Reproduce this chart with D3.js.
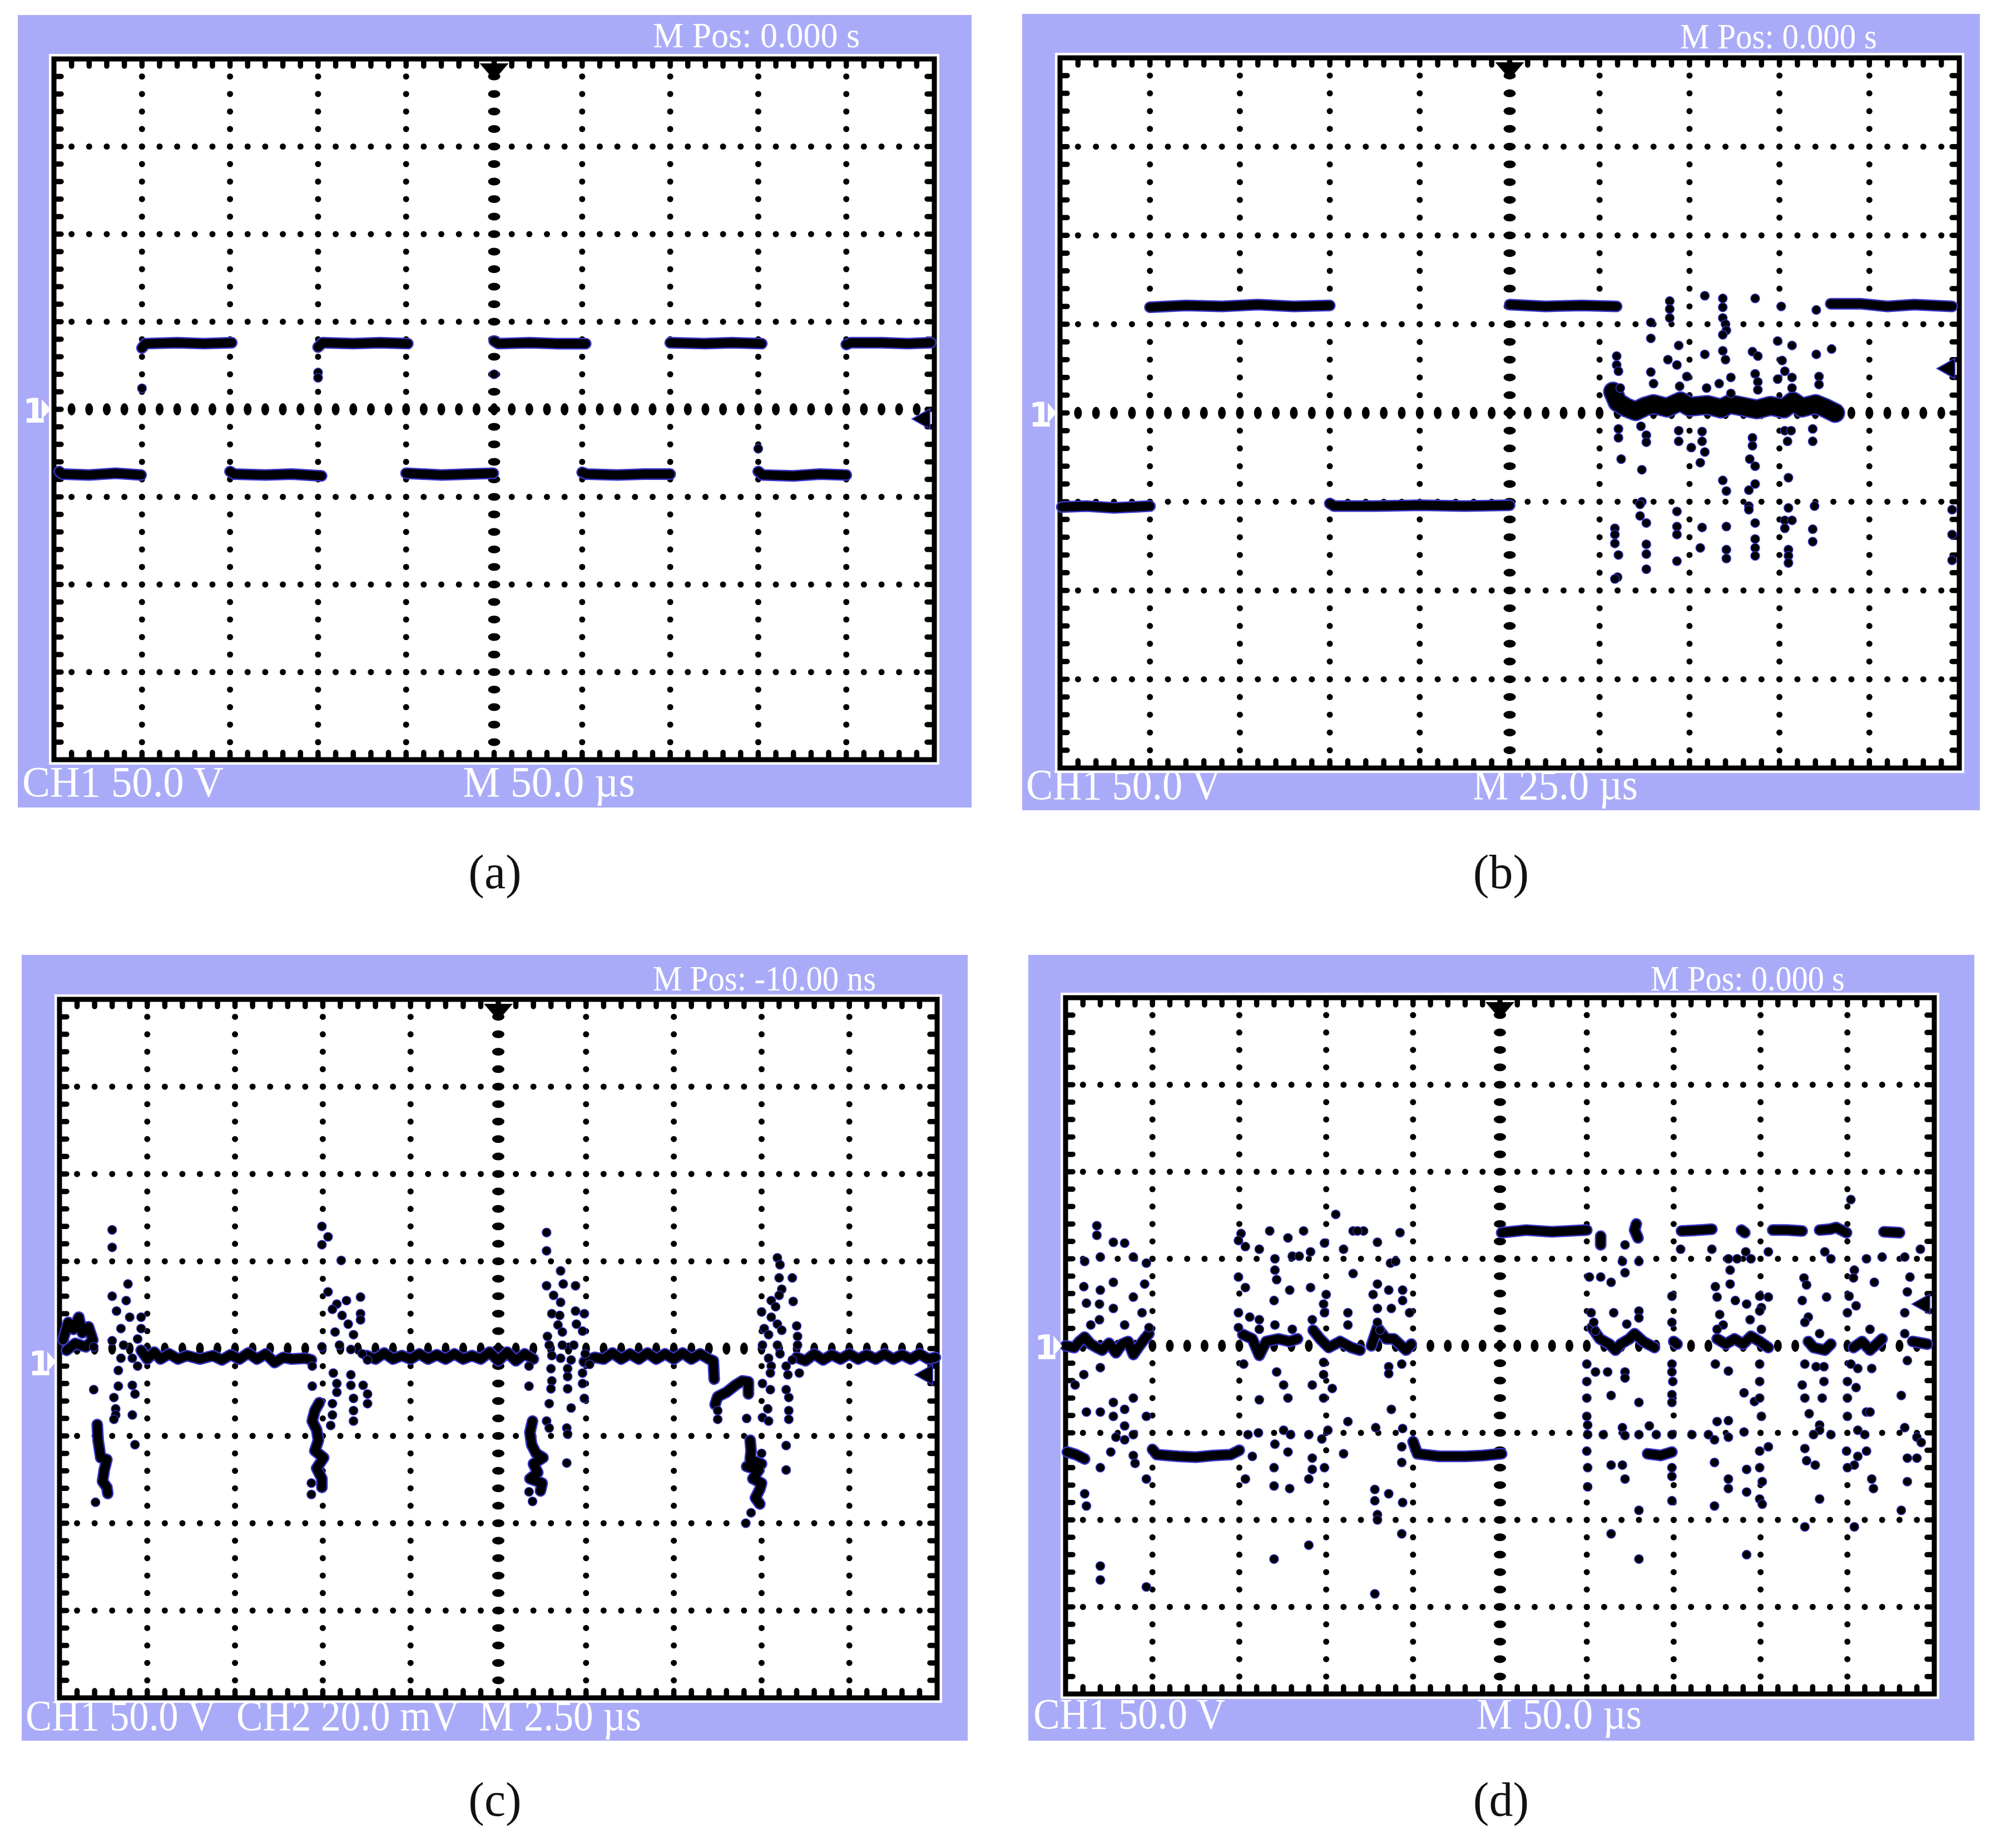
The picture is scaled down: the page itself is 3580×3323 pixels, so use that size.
<!DOCTYPE html>
<html>
<head>
<meta charset="utf-8">
<script src="https://cdn.jsdelivr.net/npm/d3@7"></script>
<style>
  body { margin: 0; background: #fff; }
  svg { display: block; }
</style>
</head>
<body>
<div id="chart"></div>
<script>
// all trace values are in screen divisions: x 0..10 from the left edge, y -4..4 from the centre line

// ---- panel (a): square wave ----
let aText = ["M Pos: 0.000 s", "CH1 50.0 V", "M 50.0 µs"];
let aTrace = [
    [[0.06, -0.71], [0.1, -0.74], [0.4, -0.75], [0.7, -0.73], [0.99, -0.75]],
    [[1.0, 0.70], [1.04, 0.75], [1.4, 0.76], [1.7, 0.75], [2.02, 0.76]],
    [[2.0, -0.71], [2.05, -0.74], [2.4, -0.75], [2.7, -0.74], [3.04, -0.76]],
    [[3.0, 0.71], [3.05, 0.76], [3.4, 0.75], [3.7, 0.76], [4.02, 0.75]],
    [[4.0, -0.73], [4.4, -0.75], [4.7, -0.74], [4.99, -0.73]],
    [[5.0, 0.78], [5.05, 0.75], [5.4, 0.76], [5.7, 0.75], [6.04, 0.75]],
    [[6.0, -0.72], [6.05, -0.74], [6.4, -0.75], [6.7, -0.74], [7.0, -0.74]],
    [[7.0, 0.76], [7.4, 0.75], [7.7, 0.76], [8.04, 0.75]],
    [[8.0, -0.71], [8.05, -0.75], [8.4, -0.76], [8.7, -0.74], [9.0, -0.75]],
    [[9.0, 0.74], [9.05, 0.76], [9.4, 0.76], [9.7, 0.75], [9.96, 0.76]]
];
let aBand = [];
let aDots = [[3.0, 0.42], [3.0, 0.36], [5.0, 0.40], [1.0, 0.24], [8.0, -0.45]];
let aMarks = { ground: 0, trigger: -0.11 };

// ---- panel (b) ----
let bText = ["M Pos: 0.000 s", "CH1 50.0 V", "M 25.0 µs"];
let bTrace = [
    [[0.02, -1.06], [0.3, -1.05], [0.6, -1.07], [1.0, -1.05]],
    [[1.0, 1.19], [1.4, 1.21], [1.8, 1.20], [2.2, 1.22], [2.6, 1.20], [3.0, 1.21]],
    [[3.0, -1.02], [3.05, -1.05], [3.5, -1.05], [4.0, -1.04], [4.5, -1.05], [5.0, -1.04]],
    [[5.0, 1.22], [5.4, 1.20], [5.8, 1.21], [6.19, 1.20]],
    [[8.57, 1.23], [8.9, 1.23], [9.2, 1.20], [9.5, 1.22], [9.92, 1.20]]
];
// thick noisy band around the centre line
let bBand = [
    [[6.15, 0.24], [6.2, 0.12], [6.3, 0.06], [6.4, 0.02], [6.5, 0.07], [6.6, 0.10], [6.75, 0.06],
     [6.9, 0.13], [7.0, 0.07], [7.2, 0.09], [7.35, 0.05], [7.45, 0.10], [7.6, 0.07], [7.75, 0.04],
     [7.9, 0.08], [8.05, 0.05], [8.15, 0.13], [8.25, 0.06], [8.4, 0.10], [8.5, 0.06], [8.62, 0.0]]
];
let bDots = [
    [6.78, 1.26], [6.78, 1.17], [6.78, 1.07], [7.17, 1.32], [7.37, 1.29], [7.37, 1.19], [7.37, 1.07],
    [7.40, 1.00], [7.41, 0.93], [7.37, 0.88], [7.73, 1.29], [8.02, 1.20], [8.41, 1.16], [6.57, 1.02],
    [6.57, 0.84], [6.88, 0.76], [7.17, 0.66], [7.37, 0.70], [7.40, 0.60], [7.70, 0.69], [7.76, 0.64],
    [7.98, 0.81], [8.14, 0.76], [8.41, 0.66], [8.58, 0.72], [6.19, 0.64], [6.19, 0.54], [6.21, 0.47],
    [6.76, 0.60], [6.86, 0.54], [6.57, 0.46], [6.97, 0.41], [7.46, 0.40], [7.73, 0.44], [8.03, 0.59],
    [8.06, 0.47], [7.98, 0.38], [8.14, 0.40], [8.44, 0.41], [8.44, 0.32], [7.33, 0.33], [7.19, 0.28],
    [6.60, 0.33], [6.89, 0.30], [7.76, 0.35], [7.76, 0.26], [6.23, 0.28], [8.14, 0.28], [7.46, 0.22],
    [6.21, -0.18], [6.21, -0.28], [6.46, -0.15], [6.52, -0.25], [6.52, -0.33], [6.88, -0.20], [6.88, -0.32],
    [7.14, -0.21], [7.14, -0.32], [7.70, -0.28], [7.70, -0.37], [8.06, -0.20], [8.13, -0.20], [8.09, -0.32],
    [8.37, -0.18], [8.37, -0.32], [7.02, -0.39], [7.17, -0.44], [6.24, -0.52], [7.12, -0.56], [7.67, -0.52],
    [7.73, -0.60], [6.47, -0.64], [7.37, -0.76], [7.41, -0.88], [7.73, -0.80], [7.66, -0.87], [8.10, -0.73],
    [6.47, -1.00], [6.45, -1.03], [7.66, -1.05], [7.66, -1.09], [8.39, -1.05], [6.45, -1.16], [6.86, -1.11],
    [8.10, -1.07], [6.52, -1.24], [7.14, -1.29], [7.41, -1.28], [7.73, -1.24], [8.06, -1.21], [8.06, -1.30],
    [8.14, -1.21], [8.37, -1.31], [8.37, -1.45], [6.17, -1.30], [6.17, -1.37], [6.17, -1.47], [6.86, -1.28],
    [6.86, -1.37], [6.52, -1.48], [6.52, -1.59], [7.12, -1.52], [7.41, -1.54], [7.41, -1.64], [7.73, -1.42],
    [7.73, -1.52], [7.73, -1.61], [8.10, -1.54], [8.10, -1.61], [8.10, -1.69], [6.21, -1.60], [6.86, -1.67],
    [6.52, -1.76], [6.20, -1.85], [6.17, -1.87],
    [9.92, -1.09], [9.92, -1.37], [9.92, -1.66]
];
let bMarks = { ground: 0, trigger: 0.5 };

// ---- panel (c) ----
let cText = ["M Pos: -10.00 ns", "CH1 50.0 V", "CH2 20.0 mV", "M 2.50 µs"];
let cTrace = [
    [[0.04, 0.10], [0.10, 0.30], [0.16, 0.22], [0.22, 0.36], [0.26, 0.18], [0.33, 0.25], [0.38, 0.10],
     [0.30, 0.02], [0.18, 0.06], [0.08, -0.02]],
    [[0.93, -0.02], [1.0, -0.12], [1.08, -0.04], [1.15, -0.12], [1.25, -0.06], [1.35, -0.12], [1.45, -0.08],
     [1.6, -0.12], [1.75, -0.08], [1.85, -0.13], [1.95, -0.07], [2.05, -0.12], [2.15, -0.05], [2.25, -0.12],
     [2.35, -0.06], [2.45, -0.16], [2.55, -0.10], [2.65, -0.12], [2.80, -0.11], [2.87, -0.13]],
    [[3.50, -0.08], [3.6, -0.12], [3.7, -0.05], [3.8, -0.12], [3.9, -0.08], [4.0, -0.12], [4.1, -0.06],
     [4.2, -0.12], [4.3, -0.07], [4.4, -0.12], [4.5, -0.06], [4.6, -0.12], [4.7, -0.08], [4.8, -0.12],
     [4.9, -0.04], [5.0, -0.14], [5.1, -0.04], [5.2, -0.14], [5.3, -0.06], [5.4, -0.12]],
    [[5.98, -0.15], [6.1, -0.10], [6.2, -0.12], [6.3, -0.05], [6.4, -0.12], [6.5, -0.06], [6.6, -0.12],
     [6.7, -0.05], [6.8, -0.12], [6.9, -0.06], [7.0, -0.12], [7.1, -0.05], [7.2, -0.12], [7.3, -0.06],
     [7.4, -0.12], [7.45, -0.14], [7.46, -0.35]],
    [[7.47, -0.64], [7.5, -0.55], [7.6, -0.50], [7.7, -0.42], [7.78, -0.37], [7.85, -0.38], [7.85, -0.52]],
    [[8.40, -0.10], [8.5, -0.14], [8.6, -0.06], [8.7, -0.13], [8.8, -0.07], [8.9, -0.12], [9.0, -0.06],
     [9.1, -0.12], [9.2, -0.07], [9.3, -0.12], [9.4, -0.06], [9.5, -0.12], [9.6, -0.07], [9.7, -0.12],
     [9.8, -0.06], [9.9, -0.12], [9.98, -0.10]],
    [[0.43, -0.87], [0.44, -1.05], [0.47, -1.25], [0.54, -1.27], [0.51, -1.39], [0.49, -1.52], [0.54, -1.59], [0.55, -1.66]],
    [[2.96, -0.62], [2.91, -0.71], [2.88, -0.83], [2.93, -0.93], [2.95, -1.05], [2.91, -1.17], [3.01, -1.25],
     [2.93, -1.37], [2.99, -1.49], [2.99, -1.59]],
    [[5.39, -0.83], [5.36, -0.96], [5.38, -1.10], [5.43, -1.20], [5.51, -1.25], [5.40, -1.32], [5.45, -1.42],
     [5.36, -1.49], [5.50, -1.54], [5.48, -1.63]],
    [[7.87, -1.05], [7.88, -1.17], [7.87, -1.27], [8.00, -1.32], [7.83, -1.35], [7.97, -1.39], [7.90, -1.49],
     [8.00, -1.54], [7.98, -1.61], [7.93, -1.71], [7.98, -1.78]]
];
let cBand = [];
let cDots = [
    // burst 1
    [0.41, -1.76], [0.60, 1.36], [0.60, 1.16], [0.78, 0.74], [0.60, 0.60], [0.76, 0.55], [0.65, 0.43],
    [0.80, 0.36], [0.93, 0.36], [0.70, 0.23], [0.93, 0.23], [0.60, 0.09], [0.73, 0.04], [0.89, 0.11],
    [0.70, -0.11], [0.83, -0.11], [0.67, -0.25], [0.89, -0.20], [0.83, -0.42], [0.67, -0.43], [0.86, -0.52],
    [0.62, -0.56], [0.64, -0.69], [0.64, -0.76], [0.62, -0.81], [0.83, -0.76], [0.86, -1.10], [0.39, -0.47], [0.39, 0.02],
    // burst 2
    [2.99, 1.40], [3.06, 1.28], [2.99, 1.19], [3.21, 1.01], [3.06, 0.65], [3.16, 0.51], [3.27, 0.55],
    [3.43, 0.59], [3.11, 0.45], [3.22, 0.38], [3.29, 0.28], [3.35, 0.16], [3.43, 0.40], [3.43, 0.33],
    [3.14, 0.19], [2.99, 0.02], [3.19, 0.04], [3.32, -0.01], [3.45, -0.06], [3.51, -0.13], [3.12, -0.28],
    [3.32, -0.30], [3.16, -0.40], [3.32, -0.42], [3.46, -0.42], [3.16, -0.50], [3.51, -0.52], [3.11, -0.63],
    [3.35, -0.57], [3.51, -0.63], [3.11, -0.76], [3.35, -0.71], [3.35, -0.83], [3.09, -0.88], [2.88, -0.43],
    [2.88, -0.20], [2.87, -1.54], [2.87, -1.67],
    // burst 3
    [5.55, 1.33], [5.55, 1.12], [5.71, 0.89], [5.55, 0.72], [5.74, 0.74], [5.88, 0.72], [5.63, 0.61],
    [5.71, 0.53], [5.61, 0.40], [5.70, 0.38], [5.88, 0.43], [5.98, 0.40], [5.68, 0.27], [5.89, 0.28],
    [5.73, 0.19], [5.56, 0.14], [5.96, 0.20], [5.58, 0.04], [5.73, 0.04], [5.86, 0.04], [5.61, -0.08],
    [5.71, -0.11], [5.83, -0.13], [5.99, -0.06], [6.04, -0.18], [5.60, -0.23], [5.79, -0.23], [5.96, -0.28],
    [5.79, -0.32], [5.61, -0.37], [5.79, -0.46], [5.60, -0.46], [5.96, -0.40], [5.98, -0.57], [5.58, -0.63],
    [5.83, -0.68], [5.55, -0.83], [5.58, -0.91], [5.78, -0.91], [5.79, -0.98], [5.78, -1.31], [5.35, -0.20],
    [5.35, -0.43], [5.39, -1.75], [5.35, -1.64], [7.50, -0.71], [7.50, -0.81], [7.83, -0.80],
    // burst 4
    [8.18, 1.04], [8.21, 0.96], [8.20, 0.81], [8.35, 0.81], [8.23, 0.68], [8.20, 0.61], [8.11, 0.55],
    [8.36, 0.54], [8.16, 0.48], [8.00, 0.42], [8.11, 0.36], [8.18, 0.28], [8.03, 0.23], [8.23, 0.21],
    [8.40, 0.26], [8.08, 0.16], [8.41, 0.14], [8.01, 0.04], [8.18, 0.04], [8.41, 0.04], [8.08, -0.11],
    [8.21, -0.06], [8.35, -0.13], [8.11, -0.20], [8.28, -0.20], [8.30, -0.30], [8.43, -0.28], [8.10, -0.28],
    [8.01, -0.40], [8.10, -0.47], [8.28, -0.47], [8.31, -0.56], [8.07, -0.69], [8.01, -0.79], [8.31, -0.71],
    [8.31, -0.81], [8.08, -0.83], [8.28, -1.11], [8.28, -1.39], [8.00, -1.20], [7.88, -1.88], [7.82, -2.00]
];
let cMarks = { ground: -0.15, trigger: -0.3 };

// ---- panel (d) ----
let dText = ["M Pos: 0.000 s", "CH1 50.0 V", "M 50.0 µs"];
let dTrace = [
    [[0.02, -1.22], [0.12, -1.25], [0.22, -1.30]],
    [[0.0, 0.0], [0.10, -0.02], [0.16, 0.05], [0.22, 0.10], [0.29, 0.02], [0.36, -0.02], [0.42, -0.05],
     [0.50, 0.03], [0.58, -0.08], [0.65, 0.02], [0.72, 0.05], [0.78, -0.10], [0.85, 0.0], [0.91, 0.08], [0.96, 0.14]],
    [[1.0, -1.19], [1.05, -1.25], [1.3, -1.27], [1.5, -1.28], [1.7, -1.26], [1.9, -1.25], [2.0, -1.20]],
    [[2.04, 0.13], [2.15, 0.08], [2.23, -0.11], [2.31, 0.05], [2.45, 0.08], [2.58, 0.05], [2.67, 0.08]],
    [[2.85, 0.18], [2.93, 0.08], [3.03, -0.02], [3.16, 0.05], [3.29, -0.02], [3.39, -0.05]],
    [[3.52, 0.0], [3.59, 0.21], [3.69, 0.08], [3.78, 0.08], [3.92, -0.05], [3.98, 0.02]],
    [[4.0, -1.10], [4.05, -1.24], [4.3, -1.27], [4.6, -1.27], [4.8, -1.26], [5.02, -1.24]],
    [[5.02, 1.30], [5.3, 1.33], [5.6, 1.31], [6.0, 1.33]],
    [[6.16, 1.26], [6.16, 1.16]],
    [[6.57, 1.40], [6.55, 1.33], [6.59, 1.24]],
    [[7.09, 1.32], [7.30, 1.33], [7.44, 1.34]],
    [[7.78, 1.33], [7.82, 1.30]],
    [[8.14, 1.33], [8.30, 1.33], [8.48, 1.32]],
    [[8.68, 1.33], [8.80, 1.34], [8.87, 1.36], [8.99, 1.30]],
    [[9.42, 1.31], [9.60, 1.30]],
    [[6.06, 0.21], [6.15, 0.08], [6.26, 0.02], [6.33, -0.05], [6.39, 0.02], [6.49, 0.08], [6.55, 0.14],
     [6.65, 0.05], [6.78, -0.02]],
    [[7.0, 0.05], [7.04, 0.02]],
    [[7.50, 0.08], [7.60, 0.02], [7.70, 0.08], [7.80, 0.02], [7.89, 0.11], [7.99, 0.05], [8.09, -0.02]],
    [[8.55, 0.05], [8.61, -0.02], [8.74, -0.05], [8.81, 0.02]],
    [[9.07, -0.02], [9.17, 0.05], [9.26, -0.05], [9.40, 0.08]],
    [[9.75, 0.05], [9.92, 0.02]],
    [[6.70, -1.24], [6.85, -1.26], [6.98, -1.22]]
];
let dBand = [];
let dDots = [
    // first division
    [0.36, 1.38], [0.36, 1.27], [0.55, 1.19], [0.68, 1.18], [0.22, 0.97], [0.40, 1.02], [0.78, 1.02],
    [0.93, 0.95], [0.21, 0.68], [0.40, 0.64], [0.55, 0.73], [0.78, 0.56], [0.91, 0.71], [0.24, 0.49],
    [0.39, 0.48], [0.55, 0.43], [0.88, 0.38], [0.39, 0.30], [0.29, 0.24], [0.68, 0.24], [0.96, 0.21],
    [0.40, -0.25], [0.21, -0.33], [0.11, -0.45], [0.55, -0.65], [0.78, -0.60], [0.24, -0.76], [0.40, -0.76],
    [0.55, -0.81], [0.68, -0.73], [0.93, -0.81], [0.68, -0.92], [0.58, -1.05], [0.68, -1.08], [0.78, -1.02],
    [0.52, -1.22], [0.78, -1.26], [0.80, -1.35], [0.40, -1.40], [0.93, -1.53], [0.22, -1.70], [0.24, -1.84],
    [0.40, -2.53], [0.40, -2.69], [0.93, -2.77],
    // divisions 2 to 4
    [2.02, 1.29], [1.99, 1.21], [2.35, 1.32], [2.56, 1.24], [2.74, 1.32], [2.98, 1.18], [3.11, 1.51],
    [3.43, 1.32], [3.31, 1.32], [3.36, 1.32], [3.59, 1.19], [3.85, 1.30], [2.07, 1.14], [2.23, 1.11],
    [2.61, 1.03], [2.69, 1.03], [2.82, 1.08], [3.20, 1.11], [2.41, 1.00], [3.74, 0.95], [3.80, 0.97],
    [3.31, 0.83], [1.99, 0.79], [2.07, 0.67], [2.41, 0.87], [2.43, 0.76], [2.58, 0.64], [2.82, 0.67],
    [3.00, 0.59], [2.40, 0.52], [2.97, 0.48], [3.59, 0.71], [3.72, 0.64], [3.88, 0.64], [3.54, 0.59],
    [3.88, 0.52], [3.59, 0.43], [3.75, 0.43], [3.96, 0.38], [1.99, 0.38], [2.12, 0.33], [2.23, 0.30],
    [2.84, 0.30], [3.25, 0.38], [3.25, 0.24], [1.99, 0.21], [2.23, 0.19], [2.41, 0.24], [2.61, 0.19],
    [2.98, 0.38], [3.59, 0.27], [3.62, 0.18],
    [2.05, -0.21], [2.43, -0.30], [2.97, -0.19], [2.97, -0.33], [2.51, -0.45], [2.84, -0.45], [3.07, -0.49],
    [2.56, -0.60], [2.23, -0.62], [2.97, -0.60], [3.75, -0.73], [3.72, -0.24], [3.87, -0.21], [3.72, -0.32],
    [3.25, -0.87], [2.22, -1.00], [2.10, -1.02], [2.51, -0.97], [2.59, -1.02], [2.80, -1.02], [3.02, -0.97],
    [3.57, -0.94], [3.88, -0.95], [2.95, -1.07], [2.41, -1.13], [2.15, -1.27], [2.56, -1.22], [2.84, -1.29],
    [3.20, -1.24], [3.87, -1.16], [3.87, -1.34], [2.07, -1.53], [2.40, -1.40], [2.84, -1.42], [2.80, -1.53],
    [2.98, -1.40], [2.40, -1.61], [2.58, -1.64], [3.56, -1.65], [3.56, -1.78], [3.72, -1.70], [3.88, -1.80],
    [3.59, -1.94], [3.59, -2.00], [2.80, -2.29], [3.87, -2.16], [2.40, -2.45], [3.56, -2.85],
    // divisions 6 to 10
    [9.04, 1.68], [6.44, 1.16], [7.08, 1.11], [7.44, 1.11], [7.83, 1.08], [8.09, 1.08], [8.74, 1.08],
    [9.84, 1.11], [6.41, 0.97], [6.60, 0.97], [6.44, 0.84], [7.63, 1.00], [7.65, 0.87], [7.73, 1.00],
    [7.89, 1.00], [8.81, 1.00], [9.22, 1.00], [9.40, 1.02], [9.66, 1.02], [6.03, 0.79], [6.16, 0.79],
    [6.28, 0.73], [8.50, 0.78], [8.53, 0.70], [9.08, 0.87], [9.07, 0.78], [9.31, 0.73], [9.72, 0.79],
    [7.48, 0.68], [7.65, 0.71], [6.98, 0.57], [7.50, 0.56], [7.71, 0.52], [7.99, 0.57], [8.09, 0.56],
    [8.48, 0.52], [8.76, 0.56], [9.02, 0.57], [9.69, 0.62], [6.05, 0.38], [6.31, 0.38], [6.60, 0.40],
    [7.84, 0.48], [8.01, 0.44], [7.99, 0.40], [9.10, 0.46], [9.00, 0.38], [9.66, 0.38], [8.55, 0.33],
    [8.51, 0.27], [7.88, 0.30], [7.53, 0.36], [7.57, 0.24], [6.60, 0.32], [6.08, 0.27], [6.10, 0.17],
    [6.46, 0.25], [6.98, 0.27], [7.50, 0.19], [9.26, 0.19], [8.68, 0.14], [9.66, 0.14], [8.01, 0.19],
    [6.00, -0.21], [6.10, -0.30], [6.24, -0.30], [6.44, -0.30], [6.44, -0.37], [6.98, -0.21], [6.98, -0.30],
    [7.48, -0.21], [7.63, -0.29], [7.99, -0.21], [8.51, -0.21], [8.64, -0.24], [8.73, -0.24], [9.04, -0.21],
    [9.12, -0.26], [9.28, -0.26], [9.69, -0.17], [6.00, -0.41], [6.99, -0.41], [7.99, -0.41], [8.48, -0.45],
    [8.73, -0.41], [9.00, -0.41], [9.10, -0.48], [6.28, -0.57], [6.00, -0.60], [6.98, -0.56], [6.98, -0.65],
    [6.60, -0.65], [7.81, -0.54], [7.93, -0.64], [7.99, -0.60], [8.51, -0.60], [8.71, -0.60], [9.00, -0.60],
    [9.62, -0.57], [6.00, -0.81], [8.01, -0.81], [8.56, -0.78], [9.00, -0.81], [9.22, -0.76], [9.26, -0.76],
    [6.01, -0.91], [6.01, -1.02], [6.19, -1.02], [6.41, -0.94], [6.44, -1.03], [6.60, -1.02], [6.72, -0.92],
    [6.80, -1.02], [6.98, -1.02], [7.21, -1.02], [7.40, -1.02], [7.50, -0.87], [7.63, -0.86], [7.63, -1.05],
    [7.47, -1.08], [7.81, -0.99], [8.68, -0.91], [8.68, -0.97], [8.61, -1.02], [8.81, -1.02], [9.12, -0.97],
    [9.20, -1.02], [9.66, -0.94], [9.80, -1.05], [9.85, -1.11], [6.00, -1.21], [7.99, -1.21], [8.09, -1.16],
    [8.51, -1.18], [8.99, -1.21], [9.22, -1.21], [9.12, -1.27], [6.28, -1.37], [6.41, -1.37], [6.01, -1.40],
    [6.98, -1.40], [7.47, -1.34], [7.84, -1.42], [7.99, -1.40], [8.53, -1.32], [8.63, -1.37], [9.08, -1.37],
    [9.00, -1.40], [9.69, -1.29], [9.80, -1.29], [6.44, -1.53], [6.98, -1.50], [7.63, -1.53], [8.02, -1.56],
    [9.28, -1.53], [6.01, -1.62], [6.98, -1.78], [7.63, -1.64], [7.84, -1.68], [7.99, -1.76], [8.02, -1.82],
    [8.68, -1.76], [9.30, -1.64], [9.69, -1.56], [6.60, -1.89], [7.47, -1.84], [9.62, -1.89], [6.28, -2.16],
    [8.51, -2.08], [9.08, -2.08], [6.60, -2.45], [7.84, -2.40]
];
let dMarks = { ground: 0, trigger: 0.48 };

let xDivs = 10;
let yDivs = 8;

// screen layout, in page pixels
let panels = [
    { text: aText, trace: aTrace, band: aBand, dots: aDots, marks: aMarks, label: "(a)",
      box: [32, 27, 1747, 1452], plot: [97, 106, 1680, 1366], labelPos: [890, 1597],
      top: [1174, 85, 372], bottom: [[40, 362], [832, 310]], bottomY: 1432 },
    { text: bText, trace: bTrace, band: bBand, dots: bDots, marks: bMarks, label: "(b)",
      box: [1838, 25, 3560, 1457], plot: [1906, 104, 3523, 1381], labelPos: [2699, 1597],
      top: [3021, 87, 354], bottom: [[1845, 350], [2648, 297]], bottomY: 1437 },
    { text: cText, trace: cTrace, band: cBand, dots: cDots, marks: cMarks, label: "(c)",
      box: [39, 1717, 1740, 3130], plot: [107, 1797, 1685, 3053], labelPos: [890, 3265],
      top: [1174, 1781, 401], bottom: [[46, 342], [425, 401], [861, 292]], bottomY: 3111 },
    { text: dText, trace: dTrace, band: dBand, dots: dDots, marks: dMarks, label: "(d)",
      box: [1849, 1717, 3550, 3130], plot: [1916, 1794, 3478, 3046], labelPos: [2699, 3265],
      top: [2968, 1781, 349], bottom: [[1858, 345], [2655, 297]], bottomY: 3108 }
];

let svgWidth = 3580;
let svgHeight = 3323;

let svg = d3.select("#chart")
    .append("svg")
    .attr("width", svgWidth)
    .attr("height", svgHeight);

svg.append("rect")
    .attr("width", svgWidth)
    .attr("height", svgHeight)
    .attr("fill", "#ffffff");

let purple = "#aaabf8";
let halo = "#3636c9";

function drawPanel(p) {
    let g = svg.append("g");
    let [bx0, by0, bx1, by1] = p.box;
    let [px0, py0, px1, py1] = p.plot;

    let x = d3.scaleLinear().domain([0, xDivs]).range([px0, px1]);
    let y = d3.scaleLinear().domain([-yDivs / 2, yDivs / 2]).range([py1, py0]);

    // purple bezel
    g.append("rect")
        .attr("x", bx0).attr("y", by0)
        .attr("width", bx1 - bx0).attr("height", by1 - by0)
        .attr("fill", purple);

    // white screen with a thin white rim
    g.append("rect")
        .attr("x", px0 - 9).attr("y", py0 - 9)
        .attr("width", px1 - px0 + 18).attr("height", py1 - py0 + 18)
        .attr("fill", "#ffffff");

    let minorX = d3.range(0, xDivs + 0.001, 0.2);
    let minorY = d3.range(-yDivs / 2, yDivs / 2 + 0.001, 0.2);

    // dotted graticule
    let grid = g.append("g").attr("fill", "#000");
    d3.range(1, xDivs).filter(i => i !== xDivs / 2).forEach(i => {
        grid.selectAll(null)
            .data(minorY.slice(1, -1))
            .enter()
            .append("circle")
            .attr("cx", x(i))
            .attr("cy", d => y(d))
            .attr("r", 5.5);
    });
    d3.range(-yDivs / 2 + 1, yDivs / 2).filter(j => j !== 0).forEach(j => {
        grid.selectAll(null)
            .data(minorX.slice(1, -1))
            .enter()
            .append("circle")
            .attr("cx", d => x(d))
            .attr("cy", y(j))
            .attr("r", 5.5);
    });
    // centre axes: heavier marks
    grid.selectAll(null)
        .data(minorY.slice(1, -1))
        .enter()
        .append("ellipse")
        .attr("cx", x(xDivs / 2))
        .attr("cy", d => y(d))
        .attr("rx", 11).attr("ry", 7);
    grid.selectAll(null)
        .data(minorX.slice(1, -1))
        .enter()
        .append("ellipse")
        .attr("cx", d => x(d))
        .attr("cy", y(0))
        .attr("rx", 7).attr("ry", 11);

    // frame with ticks on the inside
    g.append("rect")
        .attr("x", px0).attr("y", py0)
        .attr("width", px1 - px0).attr("height", py1 - py0)
        .attr("fill", "none")
        .attr("stroke", "#000")
        .attr("stroke-width", 9);
    let ticks = g.append("g")
        .attr("stroke", "#000")
        .attr("stroke-width", 9.5)
        .attr("stroke-linecap", "round");
    ticks.selectAll(null).data(minorX.slice(1, -1)).enter().append("line")
        .attr("x1", d => x(d)).attr("x2", d => x(d))
        .attr("y1", py0 + 4).attr("y2", py0 + 13);
    ticks.selectAll(null).data(minorX.slice(1, -1)).enter().append("line")
        .attr("x1", d => x(d)).attr("x2", d => x(d))
        .attr("y1", py1 - 4).attr("y2", py1 - 13);
    ticks.selectAll(null).data(minorY.slice(1, -1)).enter().append("line")
        .attr("y1", d => y(d)).attr("y2", d => y(d))
        .attr("x1", px0 + 4).attr("x2", px0 + 13);
    ticks.selectAll(null).data(minorY.slice(1, -1)).enter().append("line")
        .attr("y1", d => y(d)).attr("y2", d => y(d))
        .attr("x1", px1 - 4).attr("x2", px1 - 13);

    // trigger position arrow at the top
    let tx = x(xDivs / 2);
    g.append("path")
        .attr("d", `M${tx - 26},${py0 + 8} L${tx + 26},${py0 + 8} L${tx},${py0 + 38} Z`)
        .attr("fill", "#000");

    // trace
    let line = d3.line().x(d => x(d[0])).y(d => y(d[1]));
    let traceG = g.append("g")
        .attr("fill", "none")
        .attr("stroke-linejoin", "round")
        .attr("stroke-linecap", "round");
    let layers = [
        { data: p.band, color: halo, width: 36 },
        { data: p.trace, color: halo, width: 21 },
        { data: p.band, color: "#000", width: 31 },
        { data: p.trace, color: "#000", width: 16 }
    ];
    layers.forEach(l => {
        traceG.append("g").selectAll("path")
            .data(l.data)
            .enter()
            .append("path")
            .attr("d", line)
            .attr("stroke", l.color)
            .attr("stroke-width", l.width);
    });

    g.append("g").selectAll("circle")
        .data(p.dots)
        .enter()
        .append("circle")
        .attr("cx", d => x(d[0]))
        .attr("cy", d => y(d[1]))
        .attr("r", 8)
        .attr("fill", "#000")
        .attr("stroke", halo)
        .attr("stroke-width", 1.5);

    // trigger level marker on the right
    let ty = y(p.marks.trigger);
    g.append("path")
        .attr("d", `M${px1 - 40},${ty} L${px1 - 8},${ty - 18} L${px1 - 8},${ty + 18} Z`)
        .attr("fill", "#000")
        .attr("stroke", halo)
        .attr("stroke-width", 2);

    // channel 1 ground marker on the left
    let gy = y(p.marks.ground);
    g.append("text")
        .attr("x", px0 - 56)
        .attr("y", gy + 24)
        .attr("font-family", "DejaVu Sans")
        .attr("font-weight", "bold")
        .attr("font-size", 60)
        .attr("fill", "#fff")
        .text("1");
    g.append("path")
        .attr("d", `M${px0 - 22},${gy - 18} L${px0 - 6},${gy} L${px0 - 22},${gy + 18} Z`)
        .attr("fill", "#fff");

    // readouts
    let textStyle = sel => sel
        .attr("font-family", "Liberation Serif, Times New Roman, serif")
        .attr("fill", "#ffffff")
        .attr("lengthAdjust", "spacingAndGlyphs");

    g.append("text")
        .call(textStyle)
        .attr("x", p.top[0])
        .attr("y", p.top[1])
        .attr("font-size", 64)
        .attr("textLength", p.top[2])
        .text(p.text[0]);

    p.bottom.forEach((b, i) => {
        g.append("text")
            .call(textStyle)
            .attr("x", b[0])
            .attr("y", p.bottomY)
            .attr("font-size", 78)
            .attr("textLength", b[1])
            .text(p.text[i + 1]);
    });

    // sub-figure label
    svg.append("text")
        .attr("x", p.labelPos[0])
        .attr("y", p.labelPos[1])
        .attr("text-anchor", "middle")
        .attr("font-family", "Liberation Serif, Times New Roman, serif")
        .attr("font-size", 86)
        .attr("fill", "#111")
        .text(p.label);
}

panels.forEach(drawPanel);
</script>
</body>
</html>
